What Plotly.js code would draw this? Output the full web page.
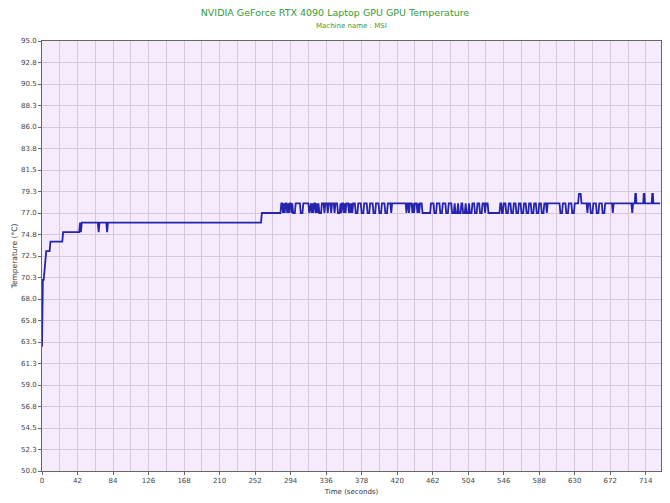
<!DOCTYPE html>
<html>
<head>
<meta charset="utf-8">
<script src="https://cdn.plot.ly/plotly-3.0.1.min.js"></script>
<style>html,body{margin:0;padding:0;background:#fff;}#chart{width:670px;height:503px;}</style>
</head>
<body>
<div id="chart"></div>
<script>
// Breakpoints of the GPU temperature trace (seconds, °C)
const timeSec = [
  0,1,2,3,4,5,9,10,24,25,44,45,46,47,66,67,68,76,77,78,259,260,282,
  283,284,285,286,287,288,289,290,291,292,293,294,295,296,297,
  299,300,305,306,308,309,315,316,
  318,319,320,321,322,323,324,325,326,327,328,
  330,331,333,334,335,337,338,339,341,342,343,345,346,347,349,350,
  352,353,354,355,356,357,358,359,360,362,363,364,365,366,367,368,370,371,
  373,374,377,378,380,381,384,385,387,388,391,392,394,395,398,399,401,402,405,406,408,409,412,413,414,
  430,431,432,433,434,435,437,438,439,440,441,443,444,445,446,447,449,450,
  459,460,463,464,466,467,470,471,473,474,477,478,480,481,484,485,
  487,488,489,491,492,493,495,496,497,498,500,501,502,504,505,506,
  508,509,511,512,514,515,517,518,520,521,523,524,525,527,
  528,541,542,
  543,544,545,546,548,549,551,552,554,555,557,558,560,561,563,564,566,567,569,570,572,573,575,576,578,579,581,582,584,585,587,588,590,591,593,594,596,597,598,
  612,613,615,616,619,620,622,623,626,627,629,630,634,635,637,638,644,645,646,648,649,651,652,655,656,658,659,662,663,665,666,
  674,675,676,697,698,699,701,701.6,702.4,703,711,711.6,712.4,713,721,721.6,722.4,723,731
];
const tempC = [
  63,70,70,71,72,73,73,74,74,75,75,76,75,76,76,75,76,76,75,76,76,77,77,
  78,78,77,78,77,78,78,77,78,77,78,78,77,78,77,
  77,78,78,77,77,78,78,77,
  78,77,78,77,78,78,77,78,77,78,77,
  77,78,78,77,78,78,77,78,78,77,78,78,77,78,78,77,
  77,78,77,78,78,77,78,77,78,78,77,78,77,78,77,78,78,77,
  77,78,78,77,77,78,78,77,77,78,78,77,77,78,78,77,77,78,78,77,77,78,78,77,78,
  78,77,78,78,77,78,78,77,78,77,78,78,77,78,77,78,78,77,
  77,78,78,77,77,78,78,77,77,78,78,77,77,78,78,77,
  77,78,77,77,78,77,77,78,78,77,77,78,77,77,78,77,
  77,78,78,77,77,78,78,77,77,78,78,77,78,78,
  77,77,78,
  78,77,77,78,78,77,77,78,78,77,77,78,78,77,77,78,78,77,77,78,78,77,77,78,78,77,77,78,78,77,77,78,78,77,77,78,78,77,78,
  78,77,77,78,78,77,77,78,78,77,77,78,78,79,79,78,78,77,78,78,77,77,78,78,77,77,78,78,77,77,78,
  78,77,78,78,77,78,78,79,79,78,78,79,79,78,78,79,79,78,78
];

const yTickVals = [50,52.25,54.5,56.75,59,61.25,63.5,65.75,68,70.25,72.5,74.75,77,79.25,81.5,83.75,86,88.25,90.5,92.75,95];
const yTickText = ["50.0","52.3","54.5","56.8","59.0","61.3","63.5","65.8","68.0","70.3","72.5","74.8","77.0","79.3","81.5","83.8","86.0","88.3","90.5","92.8","95.0"];
const xTickVals = [0,42,84,126,168,210,252,294,336,378,420,462,504,546,588,630,672,714];
const xTickText = xTickVals.map(String);

const gridCol = '#D8C6DF';
const font = 'DejaVu Sans, Verdana, sans-serif';

Plotly.newPlot('chart', [{
  x: timeSec, y: tempC, type: 'scatter', mode: 'lines',
  line: {color: '#2424AE', width: 1.8}, hoverinfo: 'skip'
}], {
  width: 670, height: 503,
  margin: {l: 42, r: 9, t: 41, b: 32},
  paper_bgcolor: '#ffffff', plot_bgcolor: '#F6EBFC',
  showlegend: false,
  font: {family: font, size: 7, color: '#444'},
  title: {text: 'NVIDIA GeForce RTX 4090 Laptop GPU GPU Temperature',
    font: {family: font, size: 9.5, color: '#339933'},
    x: 0.5, xanchor: 'center', y: 1 - 13/503, yanchor: 'middle'},
  annotations: [{text: 'Machine name : MSI', xref: 'paper', yref: 'paper',
    x: 0.5, y: 1 + 15/430, xanchor: 'center', yanchor: 'middle', showarrow: false,
    font: {family: font, size: 7, color: '#339933'}}],
  xaxis: {
    range: [0, 732], tickmode: 'array', tickvals: xTickVals, ticktext: xTickText,
    showgrid: true, gridcolor: gridCol, gridwidth: 1,
    minor: {dtick: 21, tick0: 0, showgrid: true, gridcolor: gridCol, gridwidth: 1},
    showline: true, linecolor: '#666', linewidth: 1, mirror: true,
    ticks: 'outside', ticklen: 3, tickcolor: '#666',
    zeroline: false, tickfont: {family: font, size: 7, color: '#444'},
    title: {text: 'Time (seconds)', font: {family: font, size: 7, color: '#333'}, standoff: 4}
  },
  yaxis: {
    range: [50, 95], tickmode: 'array', tickvals: yTickVals, ticktext: yTickText,
    showgrid: true, gridcolor: gridCol, gridwidth: 1,
    showline: true, linecolor: '#666', linewidth: 1, mirror: true,
    ticks: 'outside', ticklen: 3, tickcolor: '#666',
    zeroline: false, tickfont: {family: font, size: 7, color: '#444'},
    title: {text: 'Temperature (°C)', font: {family: font, size: 7.5, color: '#333'}, standoff: 2}
  }
}, {displayModeBar: false, staticPlot: true});
</script>
</body>
</html>
